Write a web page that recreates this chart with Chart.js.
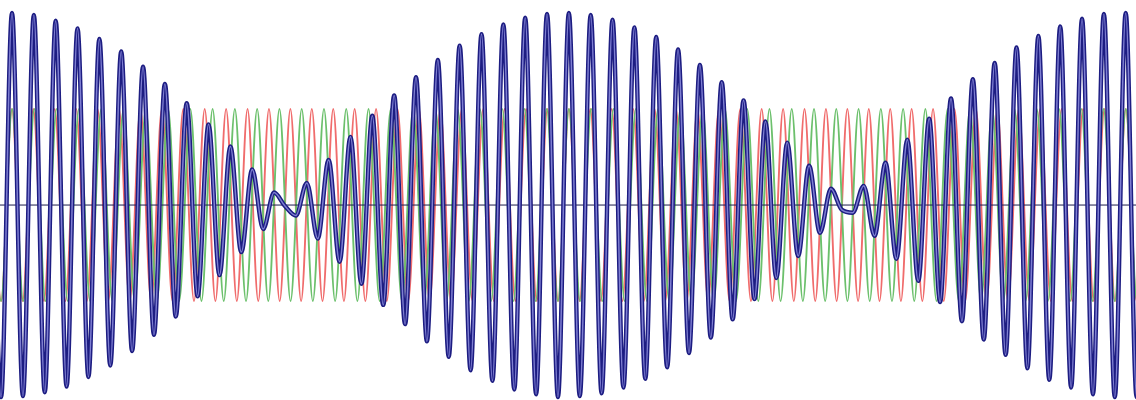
<!DOCTYPE html>
<html>
<head>
<meta charset="utf-8">
<script src="https://cdn.jsdelivr.net/npm/chart.js@4.4.1/dist/chart.umd.min.js"></script>
<style>
  html, body { margin: 0; padding: 0; background: #fff; }
  #wrap { width: 1136px; height: 400px; position: relative; }
</style>
</head>
<body>
<div id="wrap"><canvas id="beatChart"></canvas></div>
<script>
// time axis (arbitrary units), and successive extremes of each wave
const timeRange = [0, 52]

// red wave: start time of the first extreme and the time between extremes
const redStart = -0.436
const redStep = 0.4903
const redExtremes = [
  1, -1, 1, -1, 1, -1, 1, -1, 1, -1, 1, -1, 1, -1, 1, -1, 1, -1, 1, -1,
  1, -1, 1, -1, 1, -1, 1, -1, 1, -1, 1, -1, 1, -1, 1, -1, 1, -1, 1, -1,
  1, -1, 1, -1, 1, -1, 1, -1, 1, -1, 1, -1, 1, -1, 1, -1, 1, -1, 1, -1,
  1, -1, 1, -1, 1, -1, 1, -1, 1, -1, 1, -1, 1, -1, 1, -1, 1, -1, 1, -1,
  1, -1, 1, -1, 1, -1, 1, -1, 1, -1, 1, -1, 1, -1, 1, -1, 1, -1, 1, -1,
  1, -1, 1, -1, 1, -1, 1, -1, 1
]

// green wave
const greenStart = -0.464
const greenStep = 0.5098
const greenExtremes = [
  1, -1, 1, -1, 1, -1, 1, -1, 1, -1, 1, -1, 1, -1, 1, -1, 1, -1, 1, -1,
  1, -1, 1, -1, 1, -1, 1, -1, 1, -1, 1, -1, 1, -1, 1, -1, 1, -1, 1, -1,
  1, -1, 1, -1, 1, -1, 1, -1, 1, -1, 1, -1, 1, -1, 1, -1, 1, -1, 1, -1,
  1, -1, 1, -1, 1, -1, 1, -1, 1, -1, 1, -1, 1, -1, 1, -1, 1, -1, 1, -1,
  1, -1, 1, -1, 1, -1, 1, -1, 1, -1, 1, -1, 1, -1, 1, -1, 1, -1, 1, -1,
  1, -1, 1, -1, 1
]

// blue wave (the sum), read peak by peak
const blueStart = -0.45
const blueStep = 0.4998
const blueExtremes = [
  1.99, -2.00, 2.00, -1.99, 1.98, -1.95, 1.92, -1.89, 1.84, -1.79,
  1.73, -1.67, 1.60, -1.52, 1.44, -1.35, 1.26, -1.16, 1.06, -0.95,
  0.84, -0.73, 0.61, -0.49, 0.37, -0.25, 0.13, -0.01, -0.11, 0.23,
  -0.35, 0.47, -0.59, 0.71, -0.82, 0.93, -1.04, 1.14, -1.24, 1.33,
  -1.42, 1.51, -1.58, 1.66, -1.72, 1.78, -1.83, 1.88, -1.92, 1.95,
  -1.97, 1.99, -2.00, 2.00, -1.99, 1.98, -1.96, 1.93, -1.90, 1.85,
  -1.81, 1.75, -1.69, 1.62, -1.54, 1.46, -1.38, 1.28, -1.19, 1.09,
  -0.98, 0.87, -0.76, 0.65, -0.53, 0.41, -0.29, 0.17, -0.05, -0.08,
  0.20, -0.32, 0.44, -0.56, 0.68, -0.79, 0.90, -1.01, 1.11, -1.21,
  1.31, -1.40, 1.48, -1.56, 1.64, -1.70, 1.76, -1.82, 1.86, -1.90,
  1.94, -1.97, 1.99, -2.00, 2.00, -2.00, 1.99
]

const axisLine = [0, 0]

function toPoints(values, start, step) {
  return values.map((v, i) => ({ x: start + i * step, y: v }))
}

const blueData = toPoints(blueExtremes, blueStart, blueStep)

const ctx = document.getElementById("beatChart")

new Chart(ctx, {
  type: "line",
  data: {
    datasets: [
      {
        label: "sum (inner)",
        data: blueData,
        borderColor: "#7f7fd2",
        borderWidth: 1.5
      },
      {
        label: "sum",
        data: blueData,
        borderColor: "#1d1d82",
        borderWidth: 4.4
      },
      {
        label: "axis",
        data: [
          { x: timeRange[0], y: axisLine[0] },
          { x: timeRange[1], y: axisLine[1] }
        ],
        borderColor: "#1c1c4c",
        borderWidth: 1,
        cubicInterpolationMode: "default",
        tension: 0
      },
      {
        label: "green",
        data: toPoints(greenExtremes, greenStart, greenStep),
        borderColor: "#6cc06c",
        borderWidth: 1.9
      },
      {
        label: "red",
        data: toPoints(redExtremes, redStart, redStep),
        borderColor: "#f06c6c",
        borderWidth: 1.9
      }
    ]
  },
  options: {
    animation: false,
    responsive: true,
    maintainAspectRatio: false,
    layout: { padding: 0 },
    elements: {
      point: { radius: 0 },
      line: { cubicInterpolationMode: "monotone", fill: false }
    },
    plugins: {
      legend: { display: false },
      tooltip: { enabled: false }
    },
    scales: {
      x: {
        type: "linear",
        min: timeRange[0],
        max: timeRange[1],
        display: false
      },
      y: {
        min: -2.03,
        max: 2.135,
        display: false
      }
    }
  }
})
</script>
</body>
</html>
